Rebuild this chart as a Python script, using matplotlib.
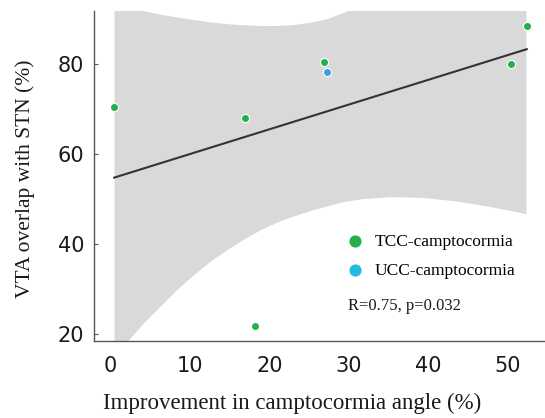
import matplotlib
matplotlib.use("Agg")
import matplotlib.pyplot as plt
import numpy as np

# points
tcc_x = [0.44, 16.9, 26.9, 18.2, 50.4, 52.4]
tcc_y = [70.4, 67.85, 80.4, 21.7, 80.0, 88.4]
ucc_x = [27.2]
ucc_y = [78.15]

# confidence band edges
band_x = [0.42, 2.2, 4.1, 6.2, 8.3, 10.4, 12.5, 14.6, 16.7, 18.8, 20.9, 23.0,
          25.1, 27.2, 29.3, 31.5, 35.2, 39.4, 43.6, 47.8, 52.3]
band_lo = [15.5, 18.6, 22.4, 26.1, 29.8, 33.1, 36.1, 38.7, 41.0, 43.1, 44.8, 46.2,
           47.4, 48.4, 49.4, 50.0, 50.5, 50.3, 49.5, 48.3, 46.7]
band_hi = [94.5, 93.0, 91.8, 91.0, 90.4, 89.8, 89.3, 88.9, 88.65, 88.5, 88.5, 88.7,
           89.2, 90.0, 91.4, 93.0, 95.5, 98.5, 101.5, 104.5, 108.0]

xticks = [0, 10, 20, 30, 40, 50]
yticks = [20, 40, 60, 80]

green = "#23b04a"
blue_pt = "#3c9ee2"
blue_leg = "#22b9e3"

fig = plt.figure(figsize=(5.45, 4.18), dpi=100)
ax = fig.add_axes([0.1725, 0.185, 0.8275, 0.7875])

ax.fill_between(band_x, band_lo, band_hi, color="#d9d9d9", lw=0, zorder=1)

all_x = np.array(tcc_x + ucc_x)
all_y = np.array(tcc_y + ucc_y)
k, b = np.polyfit(all_x, all_y, 1)
lx = np.array([min(all_x), max(all_x)])
ax.plot(lx, k * lx + b, color="#333333", lw=1.5, zorder=2)

ax.scatter(tcc_x, tcc_y, s=34, color=green, edgecolors="white", linewidths=0.8, zorder=3)
ax.scatter(ucc_x, ucc_y, s=34, color=blue_pt, edgecolors="white", linewidths=0.8, zorder=3)

ax.set_xlim(-2.1, 54.7)
ax.set_ylim(18.5, 91.6)

for s in ["top", "right"]:
    ax.spines[s].set_visible(False)
for s in ["left", "bottom"]:
    ax.spines[s].set_color("#555555")
    ax.spines[s].set_linewidth(1.0)

ax.set_xticks(xticks)
ax.set_xticks([0, 20, 40], minor=True)
ax.set_yticks(yticks)
ax.tick_params(axis="x", which="major", length=0, pad=11, labelsize=15)
ax.tick_params(axis="x", which="minor", direction="in", length=3, color="#555555")
ax.tick_params(axis="y", direction="in", length=3, color="#555555", pad=7, labelsize=15)
for lab in ax.get_xticklabels() + ax.get_yticklabels():
    lab.set_family("DejaVu Sans")
    lab.set_color("#1a1a1a")

ax.set_xlabel("Improvement in camptocormia angle (%)", family="Liberation Serif",
              fontsize=16.5, color="#1a1a1a", va="top")
ax.xaxis.set_label_coords(0.44, -0.157)
ax.set_ylabel("VTA overlap with STN (%)", family="Liberation Serif",
              fontsize=15.5, color="#1a1a1a")
ax.yaxis.label.set_va("center")
ax.yaxis.set_label_coords(-0.153, 0.491)

h1 = ax.scatter([], [], s=60, color=green, label="TCC-camptocormia")
h2 = ax.scatter([], [], s=60, color=blue_leg, label="UCC-camptocormia")
ax.legend(handles=[h1, h2], loc="center left", bbox_to_anchor=(0.525, 0.257),
          frameon=False, handletextpad=0.15, labelspacing=0.75, borderaxespad=0,
          prop={"family": "Liberation Serif", "size": 12.5})

ax.text(29.9, 26.1, "R=0.75, p=0.032", family="Liberation Serif", fontsize=12,
        va="center", ha="left", color="#1a1a1a")

fig.savefig("out.png", dpi=100)
